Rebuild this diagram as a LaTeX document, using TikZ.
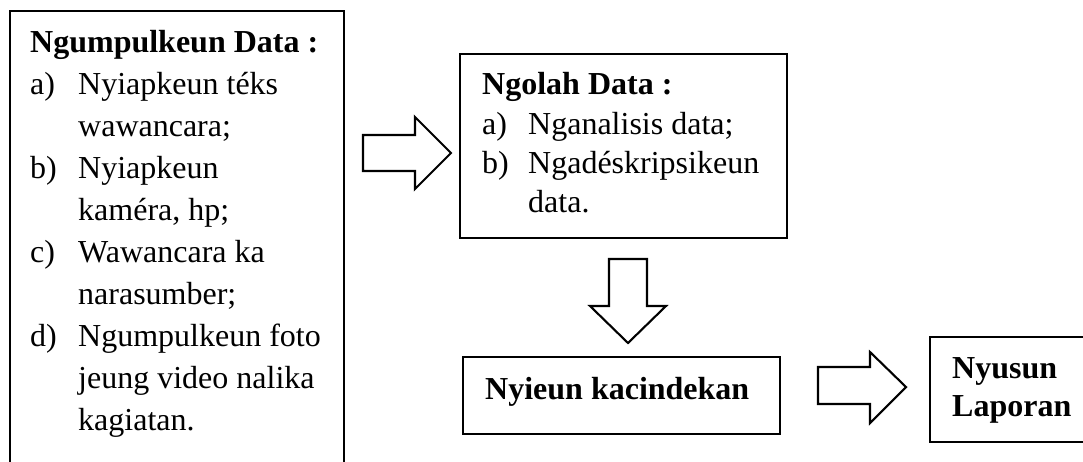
\documentclass[tikz,border=0pt]{standalone}
\usepackage{fontspec}
\setmainfont{Liberation Serif}
\begin{document}
\begin{tikzpicture}[x=1pt,y=-1pt,
  box/.style={draw, line width=2.1pt},
  txt/.style={anchor=base west, inner sep=0pt, font=\fontsize{32}{38}\selectfont},
  btxt/.style={anchor=base west, inner sep=0pt, font=\fontsize{32}{38}\selectfont\bfseries},
  blockarrow/.style={draw, line width=2.1pt, line join=miter, fill=white}]
\useasboundingbox (0,0) rectangle (1083,461);
% boxes (box 1 runs off the bottom, box 4 off the right)
\coordinate (b1s) at (10,470);
\coordinate (b1nw) at (10,11);
\coordinate (b1ne) at (344,11);
\coordinate (b1e) at (344,470);
\draw[box] (b1s) -- (b1nw) -- (b1ne) -- (b1e);
\draw[box] (460,54) rectangle (787,238);
\draw[box] (463,357) rectangle (780,434);
\coordinate (b4n) at (1095,337);
\coordinate (b4nw) at (930,337);
\coordinate (b4sw) at (930,442);
\coordinate (b4s) at (1095,442);
\draw[box] (b4n) -- (b4nw) -- (b4sw) -- (b4s);
% box 1 text
\node[btxt] (t1) at (30,52) {Ngumpulkeun Data :};
\node[txt] (l1a) at (30,94) {a)};
\node[txt] (i1a) at (78,94) {Nyiapkeun téks};
\node[txt] (i1a2) at (78,136) {wawancara;};
\node[txt] (l1b) at (30,178) {b)};
\node[txt] (i1b) at (78,178) {Nyiapkeun};
\node[txt] (i1b2) at (78,220) {kaméra, hp;};
\node[txt] (l1c) at (30,262) {c)};
\node[txt] (i1c) at (78,262) {Wawancara ka};
\node[txt] (i1c2) at (78,304) {narasumber;};
\node[txt] (l1d) at (30,346) {d)};
\node[txt] (i1d) at (78,346) {Ngumpulkeun foto};
\node[txt] (i1d2) at (78,388) {jeung video nalika};
\node[txt] (i1d3) at (78,430) {kagiatan.};
% box 2 text
\node[btxt] (t2) at (482,94) {Ngolah Data :};
\node[txt] (l2a) at (482,134) {a)};
\node[txt] (i2a) at (528,134) {Nganalisis data;};
\node[txt] (l2b) at (482,173) {b)};
\node[txt] (i2b) at (528,173) {Ngadéskripsikeun};
\node[txt] (i2b2) at (528,212) {data.};
% box 3 text
\node[btxt] (t3) at (485,399) {Nyieun kacindekan};
% box 4 text
\node[btxt] (t4) at (952,378) {Nyusun};
\node[btxt] (t4b) at (952,416) {Laporan};
% block arrows
\draw[blockarrow] (363,135) -- (415,135) -- (415,117) -- (451,153) -- (415,189) -- (415,171) -- (363,171) -- cycle;
\draw[blockarrow] (609,259) -- (647,259) -- (647,306) -- (666,306) -- (628,343) -- (590,306) -- (609,306) -- cycle;
\draw[blockarrow] (818,367) -- (870,367) -- (870,352) -- (906,387) -- (870,423) -- (870,404) -- (818,404) -- cycle;
\end{tikzpicture}
\end{document}
